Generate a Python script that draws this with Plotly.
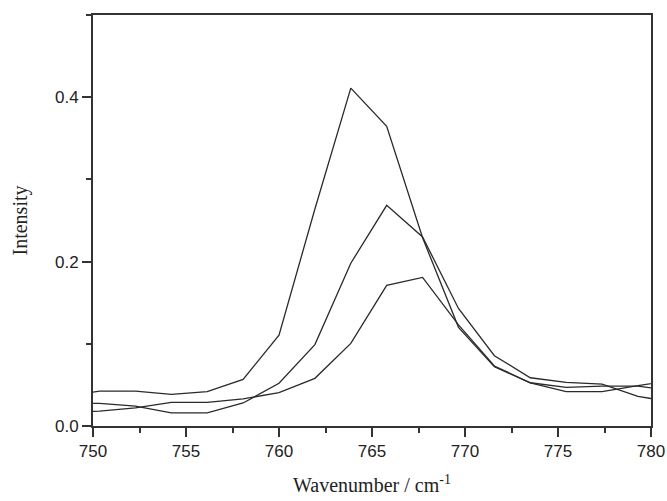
import plotly.graph_objects as go

# Wavenumber sampling (cm^-1) shared by the three spectra
wavenumber = [748.42, 750.35, 752.28, 754.21, 756.14, 758.07, 760.00, 761.93,
              763.86, 765.79, 767.72, 769.65, 771.58, 773.51, 775.44, 777.37,
              779.30, 781.23]

# Intensities of the three spectra
spectrum_a = [0.035, 0.0425, 0.0425, 0.0385, 0.0417, 0.0567, 0.1106, 0.264,
              0.411, 0.3645, 0.229, 0.120, 0.072, 0.0526, 0.0417, 0.0417,
              0.049, 0.056]
spectrum_b = [0.027, 0.0275, 0.0243, 0.016, 0.016, 0.028, 0.052, 0.099,
              0.198, 0.2685, 0.230, 0.143, 0.0855, 0.0587, 0.053, 0.051,
              0.036, 0.029]
spectrum_c = [0.0165, 0.018, 0.022, 0.0288, 0.0288, 0.033, 0.0405, 0.058,
              0.1005, 0.171, 0.1807, 0.123, 0.073, 0.0526, 0.047, 0.0486,
              0.0486, 0.0425]

x_ticks = [750, 755, 760, 765, 770, 775, 780]
y_ticks = [0.0, 0.2, 0.4]

line_style = dict(color="#2a2a2a", width=1.3)

fig = go.Figure()
for ys in (spectrum_a, spectrum_b, spectrum_c):
    fig.add_trace(go.Scatter(x=wavenumber, y=ys, mode="lines",
                             line=line_style, showlegend=False,
                             hoverinfo="skip"))

axis_common = dict(
    showline=True, linecolor="#333333", linewidth=2, mirror=True,
    showgrid=False, zeroline=False, automargin=False,
    ticks="outside", tickcolor="#333333", tickwidth=1.5, ticklen=9,
    tickfont=dict(family="Liberation Sans, Arial, sans-serif", size=17,
                  color="#222222"),
)

fig.update_layout(
    width=667, height=501,
    margin=dict(l=93, r=16, t=15, b=75),
    paper_bgcolor="white", plot_bgcolor="white",
    xaxis=dict(
        **axis_common,
        range=[750, 780],
        tickvals=x_ticks,
        ticktext=[str(v) for v in x_ticks],
        minor=dict(ticks="outside", dtick=2.5, tick0=750, ticklen=5,
                   tickcolor="#333333", tickwidth=1.5),
        title=dict(text="Wavenumber / cm<sup>-1</sup>",
                   font=dict(family="Liberation Serif, Times New Roman, serif",
                             size=20, color="#222222"),
                   standoff=18),
    ),
    yaxis=dict(
        **axis_common,
        range=[0, 0.5],
        tickvals=y_ticks,
        ticktext=[f"{v:.1f}" for v in y_ticks],
        minor=dict(ticks="outside", dtick=0.1, tick0=0, ticklen=5,
                   tickcolor="#333333", tickwidth=1.5),
        title=dict(text="Intensity",
                   font=dict(family="Liberation Serif, Times New Roman, serif",
                             size=20, color="#222222"),
                   standoff=22),
    ),
)

fig.write_html("out.html")
